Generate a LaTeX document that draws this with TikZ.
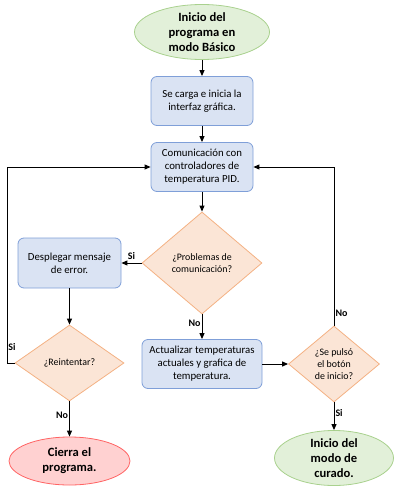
\documentclass[tikz,border=0pt]{standalone}
\usepackage{fontspec}
\setmainfont{Carlito}
\usepackage{xcolor}
\usetikzlibrary{arrows.meta}
\usetikzlibrary{shapes.geometric}
\definecolor{verdefondo}{HTML}{E2F0D9}
\definecolor{verdeborde}{HTML}{A9D18E}
\definecolor{azulfondo}{HTML}{DAE3F3}
\definecolor{azulborde}{HTML}{7F9FD8}
\definecolor{naranjafondo}{HTML}{FBE5D6}
\definecolor{naranjaborde}{HTML}{F4B183}
\definecolor{rojofondo}{HTML}{FFD1D1}
\definecolor{rojoborde}{HTML}{FF6464}

\begin{document}
\begin{tikzpicture}[x=1pt,y=-1pt,
	flecha/.style={-{Triangle[length=6pt,width=5pt]}, line width=1pt},
	proceso/.style={draw=azulborde, fill=azulfondo, rounded corners=6pt, line width=0.8pt, minimum width=102pt, minimum height=49pt, align=center, inner sep=0pt, font=\fontsize{10.8}{13}\selectfont},
	decision/.style={diamond, draw=naranjaborde, fill=naranjafondo, line width=0.8pt, align=center, inner sep=0pt, font=\fontsize{9.9}{12}\selectfont},
	terminal/.style={ellipse, line width=0.8pt, align=center, inner xsep=0pt, inner ysep=-3pt, font=\bfseries\fontsize{12.6}{15}\selectfont},
	etiqueta/.style={font=\bfseries\fontsize{10}{12}\selectfont, inner sep=1pt}]
					\useasboundingbox (0,0) rectangle (400,493);
					% draw nodes
					\node[terminal, draw=verdeborde, fill=verdefondo, minimum width=135pt, minimum height=55pt] (inicio) at (202,32) {Inicio del\\programa en\\modo Básico};
					\node[proceso] (carga) at (202,101) {Se carga e inicia la\\interfaz gráfica.};
					\node[proceso] (comunicacion) at (202,167) {Comunicación con\\controladores de\\temperatura PID.};
					\node[decision, minimum width=120pt, minimum height=102pt] (problemas) at (202,263) {¿Problemas de\\comunicación?};
					\node[proceso, minimum width=103pt, minimum height=50pt] (error) at (69.5,263) {Desplegar mensaje\\de error.};
					\node[decision, minimum width=109pt, minimum height=76pt] (reintentar) at (69.5,363) {¿Reintentar?};
					\node[terminal, draw=rojoborde, fill=rojofondo, minimum width=121pt, minimum height=48pt] (cierra) at (69.5,461) {Cierra el\\programa.};
					\node[proceso, minimum width=120pt] (actualizar) at (202,364) {Actualizar temperaturas\\actuales y grafica de\\temperatura.};
					\node[decision, minimum width=91pt, minimum height=76pt] (pulso) at (334,364) {¿Se pulsó\\el botón\\de inicio?};
					\node[terminal, draw=verdeborde, fill=verdefondo, minimum width=119pt, minimum height=55pt] (curado) at (334,458) {Inicio del\\modo de\\curado.};
					\coordinate (vuelta) at (7,363);
					
					% draw arrows
					\draw[flecha] (inicio) -- (carga);
					\draw[flecha] (carga) -- (comunicacion);
					\draw[flecha] (comunicacion) -- (problemas);
					\draw[flecha] (problemas) -- node[etiqueta, above=2pt] {Si} (error);
					\draw[flecha] (problemas) -- node[etiqueta, left, pos=0.35] {No} (actualizar);
					\draw[flecha] (error) -- (reintentar);
					\draw[flecha] (reintentar) -- node[etiqueta, left, pos=0.4] {No} (cierra);
					\draw[flecha] (reintentar.west) -- (vuelta) |- node[etiqueta, right, pos=0.04] {Si} (comunicacion.west);
					\draw[flecha] (actualizar) -- (pulso);
					\draw[flecha] (pulso) -- node[etiqueta, right, pos=0.4] {Si} (curado);
					\draw[flecha] (pulso.north) |- node[etiqueta, right, pos=0.04] {No} (comunicacion.east);
\end{tikzpicture}
\end{document}
